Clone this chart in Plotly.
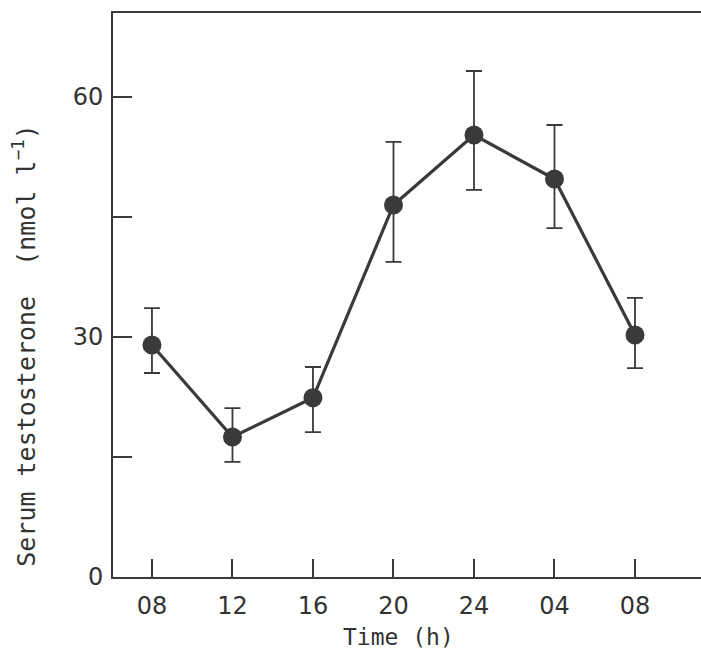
import plotly.graph_objects as go

time_labels = ["08", "12", "16", "20", "24", "04", "08"]
testosterone = [29.0, 17.5, 22.4, 46.5, 55.25, 49.75, 30.25]
err_upper = [4.6, 3.6, 3.85, 7.9, 8.0, 6.75, 4.65]
err_lower = [3.5, 3.1, 4.3, 7.1, 6.85, 6.15, 4.15]
y_tick_vals = [0, 30, 60]
y_tick_text = ["0", "30", "60"]
y_minor_vals = [15, 45]

ink = "#3a3a3a"
txt = "#333333"
xpos = list(range(len(time_labels)))

fig = go.Figure()
fig.add_trace(go.Scatter(
    x=xpos, y=testosterone,
    mode="lines+markers",
    line=dict(color=ink, width=3.2),
    marker=dict(color=ink, size=19),
    error_y=dict(type="data", symmetric=False, array=err_upper, arrayminus=err_lower,
                 color=ink, thickness=1.8, width=8),
    showlegend=False,
))

tick_font = "DejaVu Sans, Lato, sans-serif"
title_font = "DejaVu Sans Mono, Liberation Mono, monospace"

fig.update_layout(
    width=701, height=657,
    margin=dict(l=113, r=0, t=13, b=80),
    plot_bgcolor="white", paper_bgcolor="white",
    font=dict(family=tick_font, color=txt),
    xaxis=dict(
        range=[-0.484, 6.82],
        tickvals=xpos, ticktext=time_labels,
        ticks="inside", ticklen=18, tickwidth=1.8, tickcolor=ink,
        showline=True, linecolor=ink, linewidth=2, mirror=True,
        showgrid=False, zeroline=False,
        tickfont=dict(size=24, color=txt),
        ticklabelstandoff=6,
    ),
    yaxis=dict(
        range=[0, 70.5],
        tickvals=y_tick_vals, ticktext=y_tick_text,
        ticks="inside", ticklen=19, tickwidth=1.8, tickcolor=ink,
        minor=dict(tickmode="array", tickvals=y_minor_vals, ticks="inside",
                   ticklen=19, tickwidth=1.8, tickcolor=ink, showgrid=False),
        showline=True, linecolor=ink, linewidth=2, mirror=False,
        showgrid=False, zeroline=False,
        tickfont=dict(size=24, color=txt),
        ticklabelstandoff=3,
    ),
    annotations=[
        dict(text="Time (h)", xref="paper", yref="paper", x=0.485, y=-0.0, yshift=-60,
             xanchor="center", yanchor="middle", showarrow=False,
             font=dict(family=title_font, size=23, color=txt)),
        dict(text="Serum testosterone  (nmol l<sup>−1</sup>)", xref="paper", yref="paper",
             x=0, xshift=-88, y=0.41, xanchor="center", yanchor="middle", textangle=-90,
             showarrow=False, font=dict(family=title_font, size=25, color=txt)),
    ],
)

fig.write_html("out.html", config={"displayModeBar": False},
               post_script="document.body.style.margin='0';document.body.style.overflow='hidden';")
